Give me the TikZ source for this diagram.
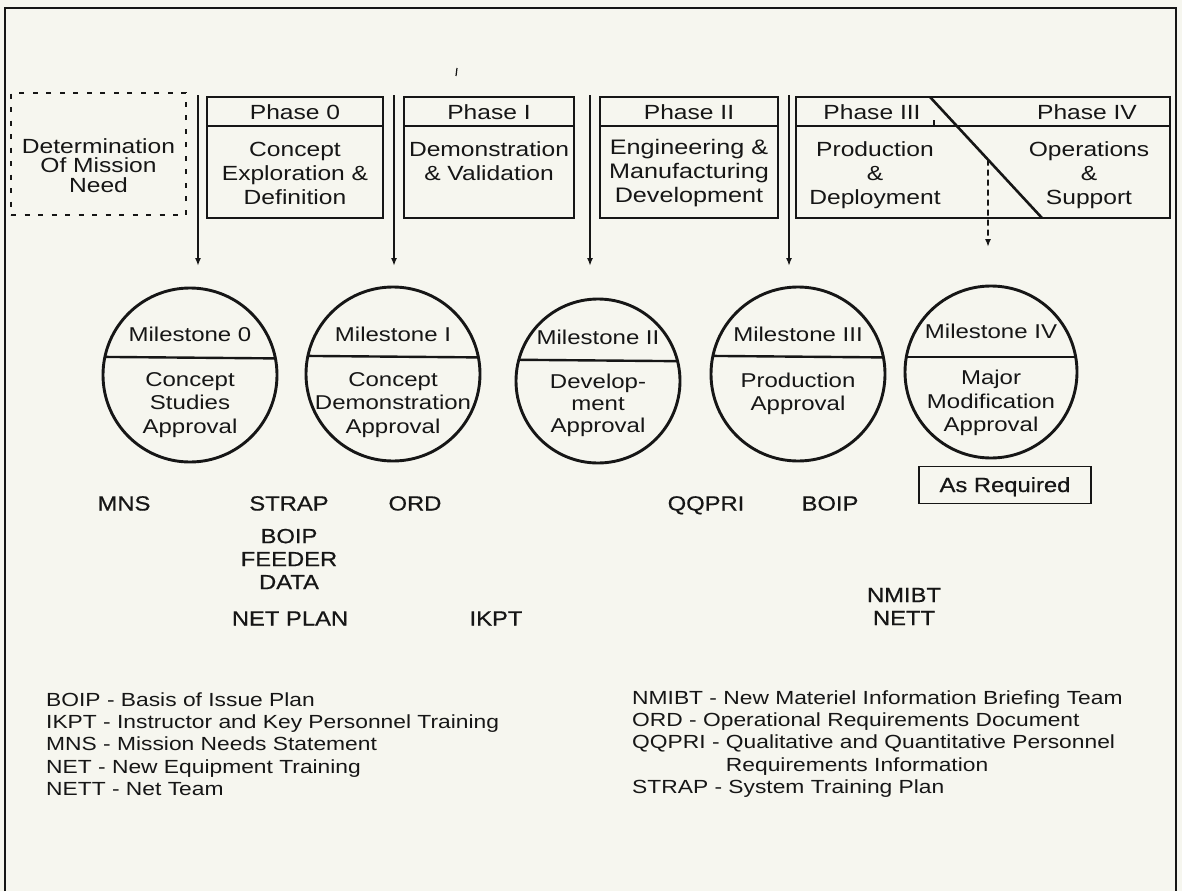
\documentclass[tikz,border=0pt]{standalone}
\usepackage{fontspec}
\setmainfont{Liberation Sans}[FakeStretch=1.2]
\newfontfamily\tagfont{Liberation Sans}[FakeStretch=1.16, FakeBold=0.6]
\usetikzlibrary{arrows.meta,calc}
\definecolor{paper}{RGB}{246,246,239}
\definecolor{ink}{RGB}{22,22,22}

\begin{document}
\begin{tikzpicture}[x=1pt,y=-1pt,
  outline/.style={draw=ink, line width=1.4pt},
  phasebox/.style={draw=ink, line width=2.8pt, rectangle, inner sep=0pt, outer sep=0pt},
  needbox/.style={draw=ink, line width=2.6pt, rectangle, inner sep=0pt, outer sep=0pt,
                  dash pattern=on 5pt off 8.5pt},
  headrule/.style={draw=ink, line width=2pt},
  feed/.style={draw=ink, line width=1.6pt, -{Latex[length=8pt,width=6pt]}},
  dashedfeed/.style={feed, dash pattern=on 6pt off 4pt},
  milestone/.style={circle, draw=ink, line width=2.9pt, inner sep=0pt, outer sep=0pt},
  boxtext/.style={font=\fontsize{20.5}{24}\selectfont, align=center, inner sep=0pt, text=ink},
  circtext/.style={font=\fontsize{20}{23.5}\selectfont, align=center, inner sep=0pt, text=ink},
  doctag/.style={font=\tagfont\fontsize{20.5}{23}\selectfont, align=center, inner sep=0pt, text=ink},
  onetag/.style={doctag, anchor=base},
  keytext/.style={font=\fontsize{19}{22.3}\selectfont, align=left, inner sep=0pt, anchor=west, text=ink},
  smallbox/.style={draw=ink, line width=1.5pt, rectangle, inner sep=0pt, outer sep=0pt}
]
\useasboundingbox (0,0) rectangle (1182,891);
\fill[paper] (0,0) rectangle (1182,891);

% outer frame, open at the foot of the page
\draw[outline] (5,891) -- (5,8) -- (1176,8) -- (1176,891);
\draw[ink, line width=1.2pt] (457,68) -- (456,76);

% ---------- phase boxes ----------
\node[needbox, minimum width=175pt, minimum height=122pt] (need) at (98.5,154) {};
\node[boxtext, font=\fontsize{20.5}{19.5}\selectfont] (needtxt) at (98.5,165.5)
  {Determination\\Of Mission\\Need};

\coordinate (hr) at (0,126);

\node[phasebox, minimum width=176pt, minimum height=121pt] (p0) at (295,157.5) {};
\draw[headrule] (p0.west |- hr) -- (p0.east |- hr);
\node[boxtext] (p0h) at (295,112) {Phase 0};
\node[boxtext] (p0b) at (295,173) {Concept\\Exploration \&\\Definition};

\node[phasebox, minimum width=170pt, minimum height=121pt] (p1) at (489,157.5) {};
\draw[headrule] (p1.west |- hr) -- (p1.east |- hr);
\node[boxtext] (p1h) at (489,112) {Phase I};
\node[boxtext] (p1b) at (489,161) {Demonstration\\\& Validation};

\node[phasebox, minimum width=178pt, minimum height=121pt] (p2) at (689,157.5) {};
\draw[headrule] (p2.west |- hr) -- (p2.east |- hr);
\node[boxtext] (p2h) at (689,112) {Phase II};
\node[boxtext, font=\fontsize{21}{24}\selectfont] (p2b) at (689,173) {Engineering \&\\Manufacturing\\Development};

\node[phasebox, minimum width=374pt, minimum height=121pt] (p3) at (983,157.5) {};
\draw[headrule] (p3.west |- hr) -- (p3.east |- hr);
\coordinate (dg1) at (930,97);
\coordinate (dg2) at (1042,218);
\draw[ink, line width=2.6pt] (dg1) -- (dg2);
\draw[ink, line width=1.2pt] (934,120) -- (934,126);
\node[boxtext] (p3h) at (872,112) {Phase III};
\node[boxtext] (p4h) at (1087,112) {Phase IV};
\node[boxtext] (p3b) at (875,175) {Production\\\&\\Deployment};
\node[boxtext] (p4b) at (1089,175) {Operations\\\&\\Support};

% ---------- feeds down to the milestones ----------
\coordinate (f0a) at (198,95);  \coordinate (f0b) at (198,266);
\coordinate (f1a) at (394,95);  \coordinate (f1b) at (394,266);
\coordinate (f2a) at (590,95);  \coordinate (f2b) at (590,266);
\coordinate (f3a) at (789,95);  \coordinate (f3b) at (789,266);
\draw[feed] (f0a) -- (f0b);
\draw[feed] (f1a) -- (f1b);
\draw[feed] (f2a) -- (f2b);
\draw[feed] (f3a) -- (f3b);
\coordinate (dq1) at (988,0);
\coordinate (dq2) at (988,300);
\coordinate (f4a) at (intersection of dg1--dg2 and dq1--dq2);
\coordinate (f4b) at (988,247);
\draw[dashedfeed] (f4a) -- (f4b);

% ---------- milestones ----------
\node[milestone, minimum size=174pt] (m0) at (190,375) {};
\draw[headrule, line width=2.4pt] (m0.168.1) -- (m0.11.9);
\node[circtext] (m0h) at (190,334) {Milestone 0};
\node[circtext] (m0b) at (190,405) {Concept\\Studies\\Approval};

\node[milestone, minimum size=174pt] (m1) at (393,374) {};
\draw[headrule, line width=2.4pt] (m1.168.7) -- (m1.11.3);
\node[circtext] (m1h) at (393,334) {Milestone I};
\node[circtext] (m1b) at (393,405) {Concept\\Demonstration\\Approval};

\node[milestone, minimum size=164pt] (m2) at (598,381) {};
\draw[headrule, line width=2.4pt] (m2.165.2) -- (m2.14.8);
\node[circtext] (m2h) at (598,337) {Milestone II};
\node[circtext, font=\fontsize{20}{22}\selectfont] (m2b) at (598,405) {Develop-\\ment\\Approval};

\node[milestone, minimum size=174pt] (m3) at (798,374) {};
\draw[headrule, line width=2.4pt] (m3.168.7) -- (m3.11.3);
\node[circtext] (m3h) at (798,334) {Milestone III};
\node[circtext] (m3b) at (798,394) {Production\\Approval};

\node[milestone, minimum size=172pt] (m4) at (991,372) {};
\draw[headrule, line width=2.4pt] (m4.170) -- (m4.10);
\node[circtext] (m4h) at (991,331) {Milestone IV};
\node[circtext] (m4b) at (991,403) {Major\\Modification\\Approval};

\node[smallbox, minimum width=172pt, minimum height=37pt] (asreq) at (1005,485) {};
\node[onetag] (asreqtxt) at (1005,492) {As Required};

% ---------- documents and teams at each milestone ----------
\node[onetag] (mns) at (124,510.5) {MNS};
\node[onetag] (strap) at (289,510.5) {STRAP};
\node[onetag] (ord) at (415,510.5) {ORD};
\node[doctag] (boipf) at (289,559) {BOIP\\FEEDER\\DATA};
\node[onetag] (netplan) at (290,625.5) {NET PLAN};
\node[onetag] (ikpt) at (496,625.5) {IKPT};
\node[onetag] (qqpri) at (706,510.5) {QQPRI};
\node[onetag] (boip) at (830,510.5) {BOIP};
\node[doctag] (teams) at (904,606.5) {NMIBT\\NETT};

% ---------- key to the abbreviations ----------
\node[keytext] (keyl) at (46,744)
  {BOIP - Basis of Issue Plan\\
   IKPT - Instructor and Key Personnel Training\\
   MNS - Mission Needs Statement\\
   NET - New Equipment Training\\
   NETT - Net Team};
\node[keytext] (keyr) at (632,744)
  {NMIBT - New Materiel Information Briefing Team\\
   ORD - Operational Requirements Document\\
   QQPRI - Qualitative and Quantitative Personnel\\
   \phantom{QQPRI - }Requirements Information\\
   STRAP - System Training Plan};
\end{tikzpicture}
\end{document}
